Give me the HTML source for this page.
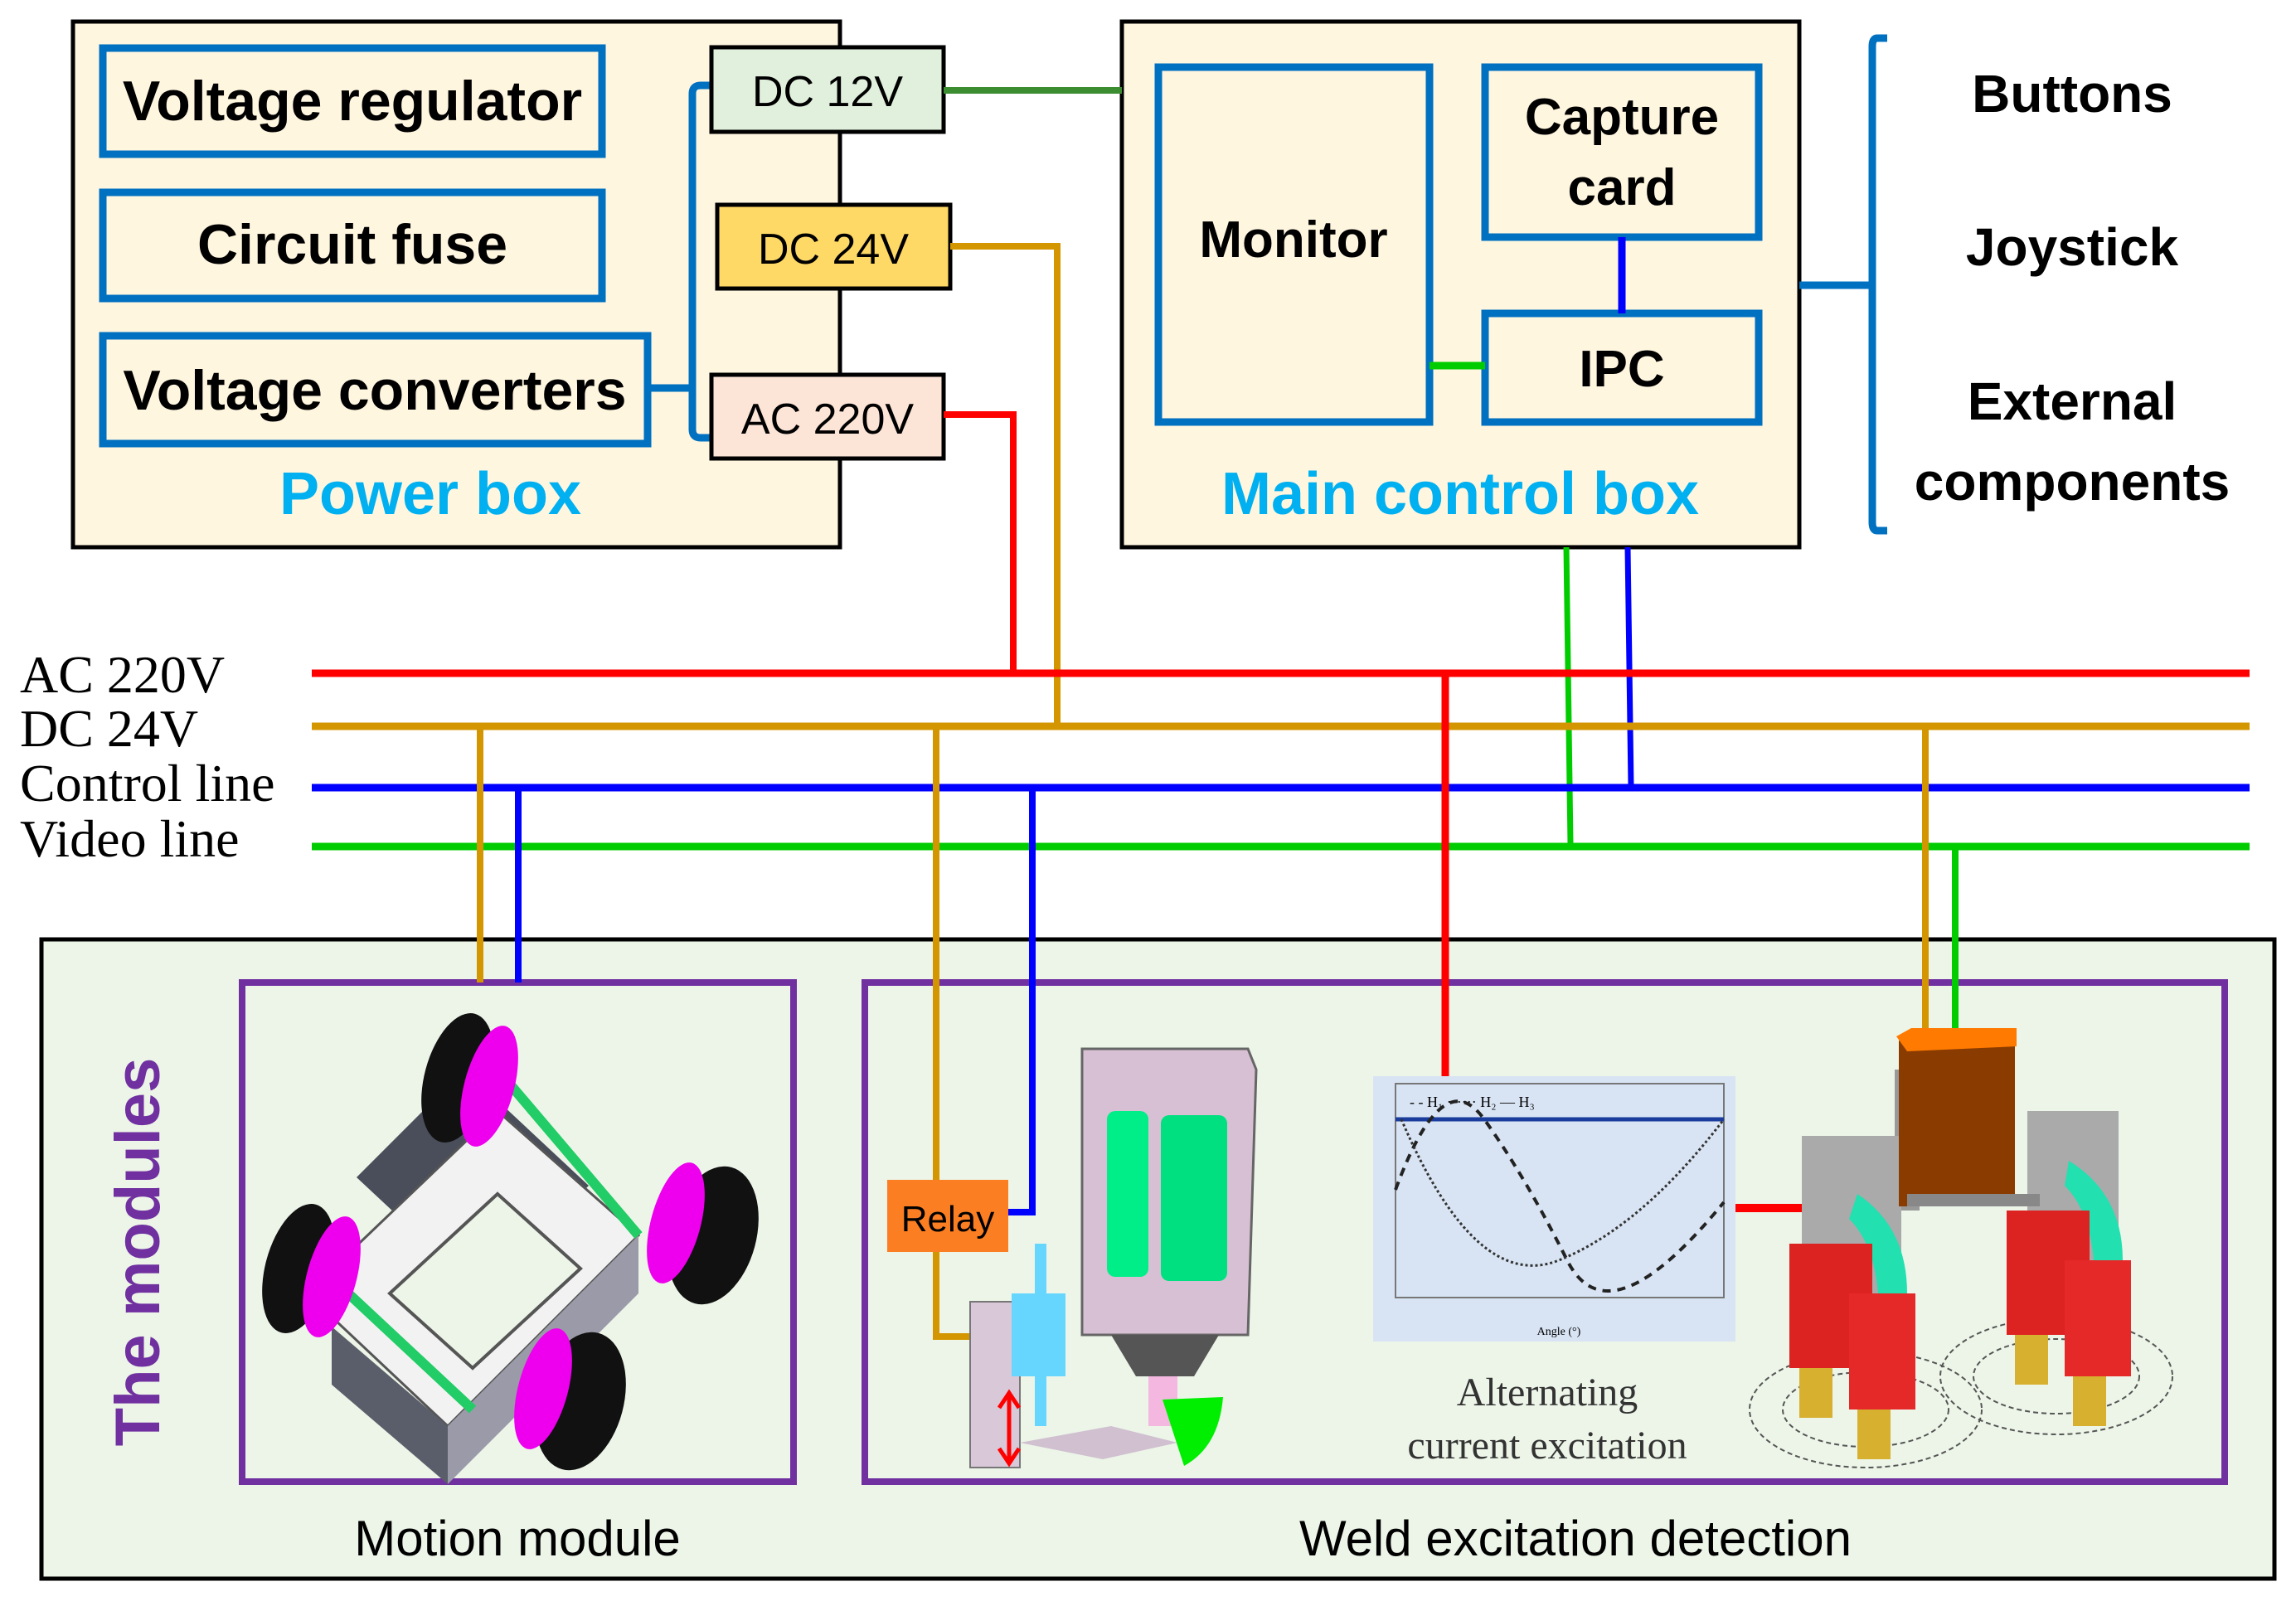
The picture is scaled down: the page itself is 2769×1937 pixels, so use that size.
<!DOCTYPE html>
<html><head><meta charset="utf-8"><style>
html,body{margin:0;padding:0;background:#fff}
svg{display:block}
.b{font-family:"Liberation Sans","DejaVu Sans",sans-serif;font-weight:bold}
.s{font-family:"Liberation Sans","DejaVu Sans",sans-serif}
.r{font-family:"Liberation Serif",serif}
</style></head><body>
<svg width="2769" height="1937" viewBox="0 0 2769 1937" xmlns="http://www.w3.org/2000/svg">
<!-- Power box -->
<rect x="88" y="26" width="925" height="634" fill="#fff6e0" stroke="#000" stroke-width="5"/>
<rect x="124" y="58" width="602" height="128" fill="#fff6e0" stroke="#0070c0" stroke-width="9"/>
<rect x="124" y="232" width="602" height="128" fill="#fff6e0" stroke="#0070c0" stroke-width="9"/>
<rect x="124" y="405" width="657" height="130" fill="#fff6e0" stroke="#0070c0" stroke-width="9"/>
<text x="425" y="145" text-anchor="middle" class="b" font-size="68">Voltage regulator</text>
<text x="425" y="318" text-anchor="middle" class="b" font-size="68">Circuit fuse</text>
<text x="452" y="494" text-anchor="middle" class="b" font-size="68">Voltage converters</text>
<path d="M858,103 H845 Q835,103 835,113 V518 Q835,528 845,528 H858 M781,468 H835" fill="none" stroke="#0070c0" stroke-width="9"/>
<rect x="858" y="57" width="280" height="102" fill="#e0f0dc" stroke="#000" stroke-width="5"/>
<rect x="865" y="247" width="281" height="101" fill="#ffd966" stroke="#000" stroke-width="5"/>
<rect x="858" y="452" width="280" height="101" fill="#fce4d6" stroke="#000" stroke-width="5"/>
<text x="998" y="128" text-anchor="middle" class="s" font-size="52">DC 12V</text>
<text x="1005" y="318" text-anchor="middle" class="s" font-size="52">DC 24V</text>
<text x="998" y="523" text-anchor="middle" class="s" font-size="52">AC 220V</text>
<text x="519" y="620" text-anchor="middle" class="b" font-size="72" fill="#00b0f0">Power box</text>
<!-- Main control box -->
<rect x="1353" y="26" width="817" height="634" fill="#fff6e0" stroke="#000" stroke-width="5"/>
<rect x="1397" y="81" width="327" height="428" fill="#fff6e0" stroke="#0070c0" stroke-width="9"/>
<rect x="1791" y="81" width="330" height="205" fill="#fff6e0" stroke="#0070c0" stroke-width="9"/>
<rect x="1791" y="378" width="330" height="131" fill="#fff6e0" stroke="#0070c0" stroke-width="9"/>
<line x1="1956" y1="286" x2="1956" y2="378" stroke="#0000ff" stroke-width="9"/>
<line x1="1724" y1="441" x2="1791" y2="441" stroke="#00cc00" stroke-width="9"/>
<text x="1560" y="310" text-anchor="middle" class="b" font-size="62">Monitor</text>
<text x="1956" y="162" text-anchor="middle" class="b" font-size="62">Capture</text>
<text x="1956" y="247" text-anchor="middle" class="b" font-size="62">card</text>
<text x="1956" y="466" text-anchor="middle" class="b" font-size="62">IPC</text>
<text x="1761" y="620" text-anchor="middle" class="b" font-size="72" fill="#00b0f0">Main control box</text>
<!-- bracket -->
<path d="M2276,46 H2264 Q2258,46 2258,56 V630 Q2258,640 2264,640 H2276 M2170,344 H2258" fill="none" stroke="#0070c0" stroke-width="9"/>
<text x="2499" y="135" text-anchor="middle" class="b" font-size="64">Buttons</text>
<text x="2499" y="320" text-anchor="middle" class="b" font-size="64">Joystick</text>
<text x="2499" y="506" text-anchor="middle" class="b" font-size="64">External</text>
<text x="2499" y="603" text-anchor="middle" class="b" font-size="64">components</text>
<!-- top connectors -->
<line x1="1138" y1="109" x2="1353" y2="109" stroke="#3c8c32" stroke-width="8"/>
<path d="M1146,297 H1275 V874" fill="none" stroke="#d49600" stroke-width="8"/>
<path d="M1138,500 H1222 V812" fill="none" stroke="#ff0000" stroke-width="8"/>
<line x1="1889" y1="660" x2="1894" y2="1019" stroke="#00cc00" stroke-width="7"/>
<line x1="1963" y1="660" x2="1967" y2="948" stroke="#0000ff" stroke-width="7"/>
<!-- buses -->
<line x1="376" y1="812" x2="2713" y2="812" stroke="#ff0000" stroke-width="9"/>
<line x1="376" y1="876" x2="2713" y2="876" stroke="#d49600" stroke-width="9"/>
<line x1="376" y1="950" x2="2713" y2="950" stroke="#0000ff" stroke-width="9"/>
<line x1="376" y1="1021" x2="2713" y2="1021" stroke="#00cc00" stroke-width="9"/>
<text x="24" y="835" class="r" font-size="64">AC 220V</text>
<text x="24" y="900" class="r" font-size="64">DC 24V</text>
<text x="24" y="966" class="r" font-size="64">Control line</text>
<text x="24" y="1033" class="r" font-size="64">Video line</text>
<!-- modules box -->
<rect x="50" y="1133" width="2693" height="771" fill="#ecf5e8" stroke="#000" stroke-width="5"/>
<rect x="292" y="1185" width="665" height="602" fill="#ecf5e8" stroke="#7030a0" stroke-width="8"/>
<rect x="1043" y="1185" width="1640" height="602" fill="#ecf5e8" stroke="#7030a0" stroke-width="8"/>
<text transform="translate(192,1510) rotate(-90)" text-anchor="middle" class="b" font-size="76" fill="#7030a0">The modules</text>
<text x="624" y="1876" text-anchor="middle" class="s" font-size="60">Motion module</text>
<text x="1900" y="1876" text-anchor="middle" class="s" font-size="60">Weld excitation detection</text>
<!-- drops -->
<line x1="579" y1="876" x2="579" y2="1185" stroke="#d49600" stroke-width="8"/>
<line x1="625" y1="950" x2="625" y2="1185" stroke="#0000ff" stroke-width="8"/>
<path d="M1129,876 V1612 H1238" fill="none" stroke="#d49600" stroke-width="8"/>
<path d="M1245,950 V1462 H1212" fill="none" stroke="#0000ff" stroke-width="8"/>
<line x1="1743" y1="812" x2="1743" y2="1300" stroke="#ff0000" stroke-width="9"/>
<line x1="2322" y1="876" x2="2322" y2="1260" stroke="#d49600" stroke-width="8"/>
<line x1="2358" y1="1021" x2="2358" y2="1260" stroke="#00cc00" stroke-width="8"/>
<line x1="2093" y1="1457" x2="2186" y2="1457" stroke="#ff0000" stroke-width="10"/>
<!-- car -->
<g>
<polygon points="430,1420 560,1290 710,1430 580,1560" fill="#4a4e5a"/>
<polygon points="370,1560 600,1340 770,1490 540,1720" fill="#f2f2f2" stroke="#555" stroke-width="3"/>
<polygon points="470,1560 600,1440 700,1530 570,1650" fill="#ecf5e8" stroke="#555" stroke-width="4"/>
<polygon points="400,1600 540,1720 540,1790 400,1670" fill="#5a5e6a"/>
<polygon points="540,1720 770,1490 770,1560 540,1790" fill="#9a9aa8"/>
<line x1="600" y1="1290" x2="770" y2="1490" stroke="#22cc66" stroke-width="12"/>
<line x1="420" y1="1560" x2="570" y2="1700" stroke="#22cc66" stroke-width="12"/>
<ellipse cx="552" cy="1300" rx="40" ry="80" fill="#111" transform="rotate(15 552 1300)"/>
<ellipse cx="590" cy="1310" rx="30" ry="75" fill="#ee00ee" transform="rotate(15 590 1310)"/>
<ellipse cx="360" cy="1530" rx="40" ry="80" fill="#111" transform="rotate(15 360 1530)"/>
<ellipse cx="400" cy="1540" rx="30" ry="75" fill="#ee00ee" transform="rotate(15 400 1540)"/>
<ellipse cx="860" cy="1490" rx="52" ry="85" fill="#111" transform="rotate(15 860 1490)"/>
<ellipse cx="815" cy="1475" rx="30" ry="75" fill="#ee00ee" transform="rotate(15 815 1475)"/>
<ellipse cx="700" cy="1690" rx="52" ry="85" fill="#111" transform="rotate(15 700 1690)"/>
<ellipse cx="655" cy="1675" rx="30" ry="75" fill="#ee00ee" transform="rotate(15 655 1675)"/>
</g>
<!-- weld device -->
<g>
<polygon points="1305,1265 1505,1265 1515,1290 1505,1610 1305,1610" fill="#d8c0d4" stroke="#666" stroke-width="3"/>
<rect x="1335" y="1340" width="50" height="200" fill="#00ee88" rx="10"/>
<rect x="1400" y="1345" width="80" height="200" fill="#00e080" rx="10"/>
<polygon points="1340,1610 1470,1610 1440,1660 1370,1660" fill="#555"/>
<rect x="1385" y="1660" width="35" height="60" fill="#f4b8e0"/>
<rect x="1170" y="1570" width="60" height="200" fill="#d8c8d8" stroke="#777" stroke-width="2"/>
<rect x="1220" y="1560" width="65" height="100" fill="#66d6ff"/>
<rect x="1248" y="1500" width="14" height="60" fill="#66d6ff"/>
<rect x="1248" y="1660" width="14" height="60" fill="#66d6ff"/>
<polygon points="1230,1740 1340,1720 1420,1740 1330,1760" fill="#d0c0d0"/>
<path d="M1402,1688 L1475,1685 Q1470,1745 1428,1768 Z" fill="#00ee00"/>
<path d="M1217,1680 V1765 M1205,1698 L1217,1680 L1229,1698 M1205,1747 L1217,1765 L1229,1747" fill="none" stroke="#ff0000" stroke-width="5"/>
<rect x="1070" y="1423" width="146" height="87" fill="#fb7e22"/>
<text x="1143" y="1485" text-anchor="middle" class="s" font-size="44">Relay</text>
</g>
<!-- graph -->
<g>
<rect x="1656" y="1298" width="437" height="320" fill="#d8e4f4"/>
<rect x="1683" y="1307" width="396" height="258" fill="none" stroke="#777" stroke-width="2"/>
<line x1="1683" y1="1350" x2="2079" y2="1350" stroke="#1a3c9c" stroke-width="5"/>
<text x="1700" y="1335" class="r" font-size="18">- - H₁ ······ H₂ — H₃</text>
<path d="M1683,1435 Q1740,1280 1790,1350 T1890,1520 T2079,1450" fill="none" stroke="#222" stroke-width="4" stroke-dasharray="10,8"/>
<path d="M1690,1350 Q1780,1560 1880,1520 T2079,1350" fill="none" stroke="#333" stroke-width="3" stroke-dasharray="3,3"/>
<text x="1880" y="1610" text-anchor="middle" class="r" font-size="14">Angle (°)</text>
</g>
<text x="1866" y="1695" text-anchor="middle" class="r" font-size="48" fill="#333">Alternating</text>
<text x="1866" y="1759" text-anchor="middle" class="r" font-size="48" fill="#333">current excitation</text>
<!-- robot -->
<g>
<ellipse cx="2250" cy="1700" rx="140" ry="70" fill="none" stroke="#555" stroke-width="2" stroke-dasharray="6,4"/>
<ellipse cx="2250" cy="1700" rx="100" ry="45" fill="none" stroke="#555" stroke-width="2" stroke-dasharray="6,4"/>
<ellipse cx="2480" cy="1660" rx="140" ry="70" fill="none" stroke="#555" stroke-width="2" stroke-dasharray="6,4"/>
<ellipse cx="2480" cy="1660" rx="100" ry="45" fill="none" stroke="#555" stroke-width="2" stroke-dasharray="6,4"/>
<rect x="2285" y="1290" width="30" height="170" fill="#999"/>
<rect x="2173" y="1370" width="120" height="190" fill="#aaa"/>
<rect x="2445" y="1340" width="110" height="190" fill="#aaa"/>
<rect x="2290" y="1255" width="140" height="200" fill="#8a3c00"/>
<polygon points="2287,1250 2305,1240 2432,1240 2432,1262 2300,1268" fill="#ff7a00"/>
<rect x="2300" y="1440" width="160" height="15" fill="#888"/>
<path d="M2240,1440 Q2300,1480 2300,1560 L2265,1560 Q2260,1500 2230,1470 Z" fill="#22e0b0"/>
<path d="M2495,1400 Q2560,1440 2560,1520 L2525,1520 Q2520,1460 2490,1430 Z" fill="#22e0b0"/>
<rect x="2158" y="1500" width="100" height="150" fill="#dd2222"/>
<rect x="2230" y="1560" width="80" height="140" fill="#e52828"/>
<rect x="2420" y="1460" width="100" height="150" fill="#dd2222"/>
<rect x="2490" y="1520" width="80" height="140" fill="#e52828"/>
<rect x="2170" y="1650" width="40" height="60" fill="#d8b030"/>
<rect x="2240" y="1700" width="40" height="60" fill="#d8b030"/>
<rect x="2430" y="1610" width="40" height="60" fill="#d8b030"/>
<rect x="2500" y="1660" width="40" height="60" fill="#d8b030"/>
</g>
</svg>
</body></html>
